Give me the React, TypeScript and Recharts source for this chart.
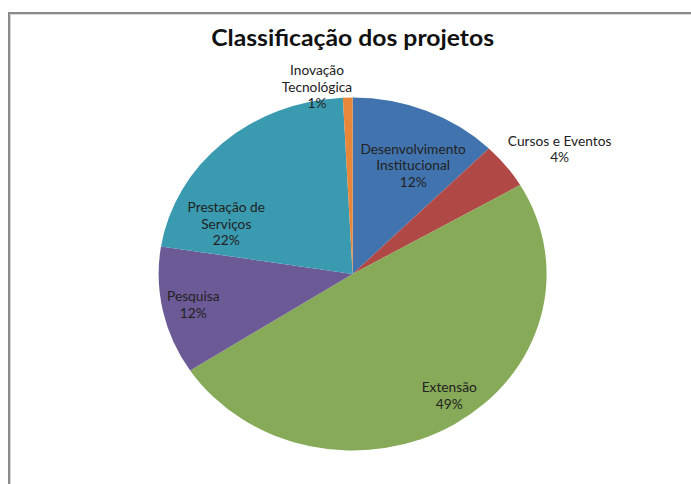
import React from 'react';
import { PieChart, Pie, Cell } from 'recharts';

// values (share of projects, %)
const categories = [
  'Desenvolvimento Institucional',
  'Cursos e Eventos',
  'Extensão',
  'Pesquisa',
  'Prestação de Serviços',
  'Inovação Tecnológica',
];
const shares = [12.4, 4.2, 49.2, 11.7, 21.7, 0.8];
const colors = ['#4174AE', '#B04846', '#87AA59', '#6C5A96', '#3A9AB0', '#E8873A'];

// how each data label is broken into lines
const labelLines: Record<string, string[]> = {
  'Desenvolvimento Institucional': ['Desenvolvimento', 'Institucional'],
  'Cursos e Eventos': ['Cursos e Eventos'],
  'Extensão': ['Extensão'],
  'Pesquisa': ['Pesquisa'],
  'Prestação de Serviços': ['Prestação de', 'Serviços'],
  'Inovação Tecnológica': ['Inovação', 'Tecnológica'],
};

// label placement: radius as a fraction of the pie, angle nudge (deg, clockwise)
const labelPlace: Record<string, { r: number; da: number }> = {
  'Desenvolvimento Institucional': { r: 0.69, da: 4.6 },
  'Cursos e Eventos': { r: 1.28, da: 4.3 },
  'Extensão': { r: 0.85, da: -4.2 },
  'Pesquisa': { r: 0.84, da: 0 },
  'Prestação de Serviços': { r: 0.71, da: -24.6 },
  'Inovação Tecnológica': { r: 1.075, da: -8.4 },
};

const data = categories.map((name, i) => ({ name, value: shares[i] }));

const FONT = 'Lato, "Open Sans", sans-serif';
const CX = 352.6;
const CY = 274;
const R = 176.5;
const STRETCH = 1.099; // the original pie is wider than tall

const renderLabel = (props: any) => {
  const { cx, cy, midAngle, outerRadius, percent, name } = props;
  const place = labelPlace[name] ?? { r: 0.7, da: 0 };
  const theta = ((90 - midAngle + place.da) * Math.PI) / 180;
  const x = cx + place.r * outerRadius * Math.sin(theta);
  const y = cy - place.r * outerRadius * Math.cos(theta);
  const lines = [...(labelLines[name] ?? [name]), `${Math.round(percent * 100)}%`];
  const lh = 16.5;
  const y0 = y - ((lines.length - 1) * lh) / 2;
  return (
    <text
      x={x}
      y={y0}
      textAnchor="middle"
      dominantBaseline="central"
      fill="#222"
      fontSize={12.5}
      fontFamily={FONT}
    >
      {lines.map((l, i) => (
        <tspan key={i} x={x} y={y0 + i * lh}>
          {l}
        </tspan>
      ))}
    </text>
  );
};

export default function App() {
  return (
    <div
      style={{
        position: 'absolute',
        left: 0,
        top: 0,
        width: 691,
        height: 484,
        background: '#fff',
        overflow: 'hidden',
      }}
    >
      <div
        style={{
          position: 'absolute',
          left: 8,
          top: 12,
          width: 720,
          height: 520,
          borderLeft: '2px solid #8a8a8a',
          borderTop: '2px solid #8a8a8a',
          boxShadow: 'inset 1px 1px 0 #d8d8d8',
        }}
      />
      <div
        style={{
          position: 'absolute',
          left: 0,
          top: 0,
          width: 691,
          height: 484,
          transform: `scaleX(${STRETCH})`,
          transformOrigin: `${CX}px 0px`,
        }}
      >
        <div
          style={{
            position: 'absolute',
            left: CX - 200,
            width: 400,
            top: 24,
            textAlign: 'center',
            fontFamily: FONT,
            fontWeight: 700,
            fontSize: 22.5,
            color: '#111',
          }}
        >
          Classificação dos projetos
        </div>
        <PieChart width={691} height={484} margin={{ top: 0, right: 0, bottom: 0, left: 0 }}>
          <Pie
            data={data}
            dataKey="value"
            nameKey="name"
            cx={CX}
            cy={CY}
            outerRadius={R}
            startAngle={90}
            endAngle={-270}
            stroke="none"
            label={renderLabel}
            labelLine={false}
            isAnimationActive={false}
          >
            {data.map((d, i) => (
              <Cell key={d.name} fill={colors[i]} />
            ))}
          </Pie>
        </PieChart>
      </div>
    </div>
  );
}
